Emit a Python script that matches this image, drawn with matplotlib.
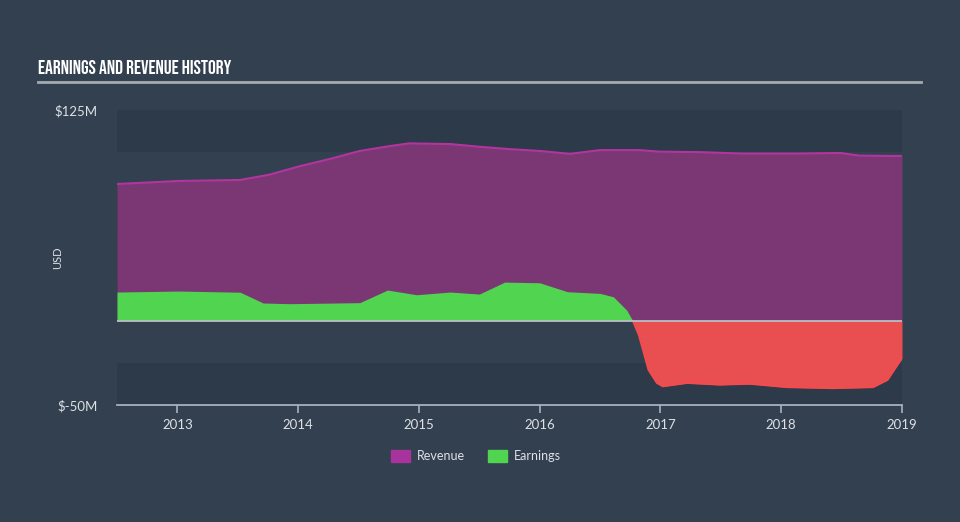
import numpy as np
import matplotlib
matplotlib.use("Agg")
from matplotlib import pyplot as plt
from matplotlib.patches import Patch

# valori (anni frazionari, milioni USD)
rev_years = [2012.50, 2013.01, 2013.52, 2013.76, 2014.01, 2014.26, 2014.51, 2014.76, 2014.92,
             2015.26, 2015.50, 2015.75, 2016.00, 2016.25, 2016.50, 2016.83, 2016.99, 2017.33,
             2017.66, 2018.16, 2018.49, 2018.65, 2019.00]
revenue = [81.1, 82.9, 83.5, 86.6, 91.6, 95.9, 100.7, 103.6, 105.2,
           104.8, 103.2, 101.8, 100.7, 99.0, 101.2, 101.2, 100.3, 100.0,
           99.2, 99.2, 99.5, 97.9, 97.7]

earn_years = [2012.50, 2013.01, 2013.52, 2013.71, 2013.93, 2014.51, 2014.74, 2014.98, 2015.26,
              2015.50, 2015.71, 2016.00, 2016.23, 2016.50, 2016.61, 2016.72, 2016.77, 2016.82,
              2016.90, 2016.97, 2017.02, 2017.22, 2017.49, 2017.74, 2018.05, 2018.43, 2018.76,
              2018.88, 2019.00]
earnings = [17.0, 17.6, 16.9, 10.5, 10.1, 10.7, 18.2, 15.4, 17.0,
            15.8, 22.9, 22.5, 17.2, 16.2, 14.2, 6.3, 0.0, -8.5,
            -29.2, -37.0, -39.0, -37.0, -38.0, -37.5, -39.5, -40.1, -39.5,
            -35.2, -22.3]

year_ticks = [2013, 2014, 2015, 2016, 2017, 2018, 2019]
y_ticks = [-50, 125]
y_labels = ["$-50M", "$125M"]

BG = "#324050"
BAND = "#2d3a49"
TXT = "#dde1e5"
font = ["Lato", "DejaVu Sans"]
title_font = ["Bebas Neue", "Oswald", "Roboto Condensed", "DejaVu Sans"]

fig = plt.figure(figsize=(9.6, 5.22), dpi=100)
fig.patch.set_facecolor(BG)
ax = fig.add_axes([117/960, 1-405/522, (902-117)/960, (405-110)/522])
ax.set_facecolor(BG)

ax.set_xlim(2012.5, 2019.0)
ax.set_ylim(-50, 125)

# bande orizzontali alternate ogni 25M
edges = np.arange(125, -50, -25)
for k, top in enumerate(edges):
    if k % 2 == 0:
        ax.axhspan(top - 25, top, color=BAND, lw=0, zorder=0)

rx = np.array(rev_years)
ry = np.array(revenue)
ex = np.array(earn_years)
ey = np.array(earnings)

ax.fill_between(rx, 0, ry, color="#7a3774", lw=0, zorder=1)
ax.plot(rx, ry, color="#b2359f", lw=1.5, zorder=2)

ax.fill_between(ex, 0, ey, where=ey >= 0, interpolate=True, color="#51d551", lw=0, zorder=3)
ax.fill_between(ex, 0, ey, where=ey <= 0, interpolate=True, color="#e94f51", lw=0, zorder=3)
ax.plot(ex[ey <= 0.1], ey[ey <= 0.1], color="#f84a4d", lw=1.2, zorder=4)

ax.axhline(0, color="#b8bec5", lw=1.3, zorder=5)

for s in ["top", "right", "left"]:
    ax.spines[s].set_visible(False)
ax.spines["bottom"].set_color("#a9b1ba")
ax.spines["bottom"].set_linewidth(1.3)

ax.set_xticks(year_ticks)
ax.set_xticklabels([str(y) for y in year_ticks], fontfamily=font, fontsize=9.5, color=TXT)
ax.tick_params(axis="x", direction="out", length=6, width=1.2, color="#a9b1ba", pad=4)
ax.set_yticks(y_ticks)
ax.set_yticklabels(y_labels, fontfamily=font, fontsize=9.5, color=TXT)
ax.tick_params(axis="y", length=0, pad=14)
ax.set_ylabel("USD", fontfamily=font, fontsize=8, color=TXT, labelpad=0)
ax.yaxis.set_label_coords(-0.068, 0.5)

fig.text(38/960, 1-67/522, "EARNINGS AND REVENUE HISTORY", family=title_font,
         fontsize=14, color="white", va="center", ha="left")
fig.add_artist(plt.Line2D([38/960, 921/960], [1-82/522, 1-82/522], color="#a4aab1", lw=2))

handles = [Patch(color="#a8339c", label="Revenue"), Patch(color="#51d551", label="Earnings")]
leg = fig.legend(handles=handles, loc="center", bbox_to_anchor=(476/960, 1-456/522), ncol=2,
                 frameon=False, handlelength=1.5, handleheight=1.1, columnspacing=1.8, handletextpad=0.6,
                 prop={"family": font, "size": 9})
for t in leg.get_texts():
    t.set_color(TXT)

fig.savefig("out.png", dpi=100, facecolor=BG)
